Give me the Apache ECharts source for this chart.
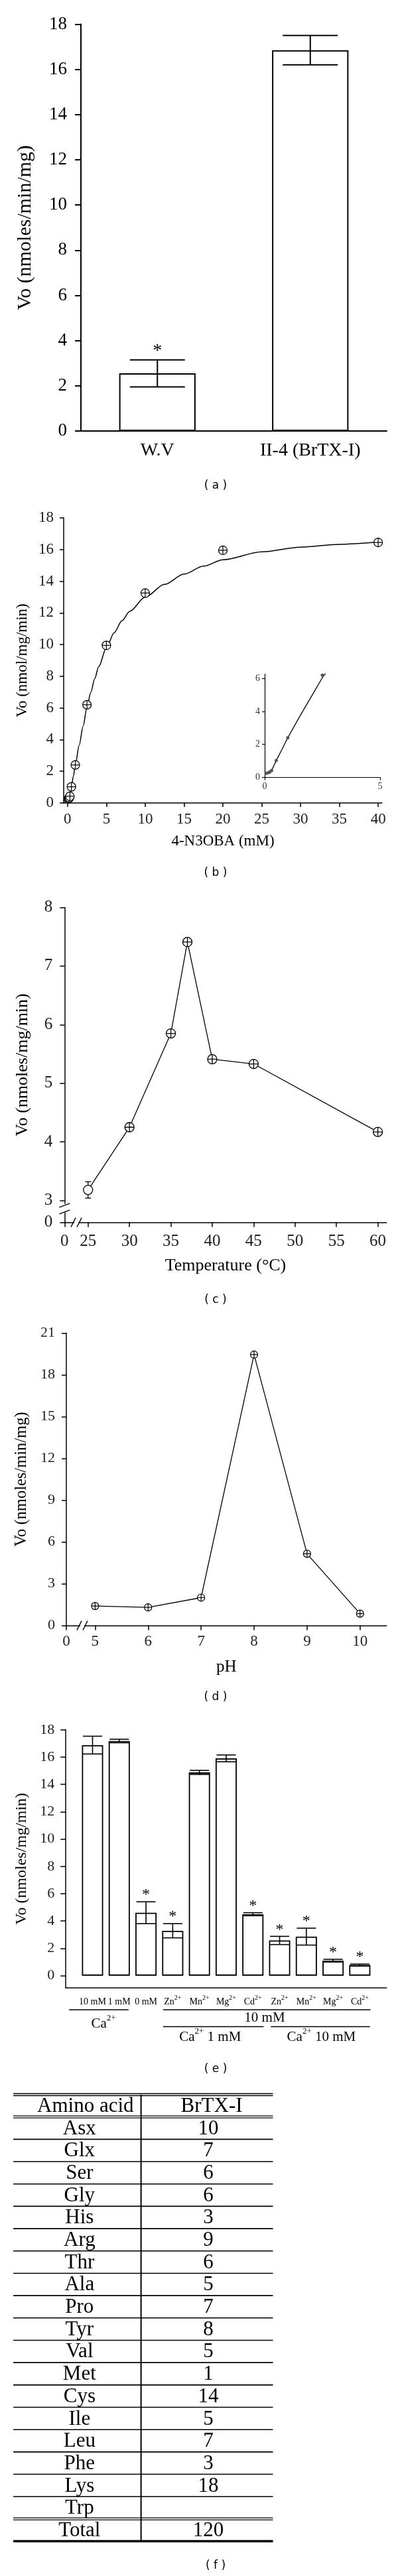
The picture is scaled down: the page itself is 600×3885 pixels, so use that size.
<!DOCTYPE html>
<html><head><meta charset="utf-8">
<script src="https://cdn.jsdelivr.net/npm/echarts@6/dist/echarts.min.js"></script>
<style>html,body{margin:0;padding:0;background:#fff}#c{width:600px;height:3885px}</style>
</head><body><div id="c"></div>
<script>
// ---------- (a) ----------
const aCategories = ['W.V', 'II-4 (BrTX-I)'];
const aValues = [2.55, 16.85];
const aErrors = [0.6, 0.65];
const aSignificant = [1, 0];
const aYTicks = [0, 2, 4, 6, 8, 10, 12, 14, 16, 18];

// ---------- (b) ----------
const bSubstrate = [0.08, 0.17, 0.22, 0.3, 0.5, 1, 2.5, 5, 10, 20, 40];
const bRate = [0.25, 0.29, 0.33, 0.42, 1.02, 2.4, 6.2, 9.95, 13.25, 15.95, 16.45];
const bFitX = [0.05, 0.2, 0.3, 0.5, 0.75, 1, 1.5, 2, 2.5, 3, 3.5, 4, 5, 6, 7, 8, 10, 12.5, 15, 17.5, 20, 25, 30, 35, 40];
const bFitY = [0.22, 0.3, 0.42, 1.02, 1.7, 2.4, 3.65, 4.85, 6.05, 7.0, 7.85, 8.6, 9.8, 10.75, 11.5, 12.1, 13.0, 13.8, 14.45, 14.95, 15.35, 15.85, 16.15, 16.33, 16.47];
const bXTicks = [0, 5, 10, 15, 20, 25, 30, 35, 40];
const bYTicks = [0, 2, 4, 6, 8, 10, 12, 14, 16, 18];
const bInsetXTicks = [0, 5];
const bInsetYTicks = [0, 2, 4, 6];

// ---------- (c) ----------
const cTemperature = [25, 30, 35, 37, 40, 45, 60];
const cRate = [3.18, 4.25, 5.85, 7.41, 5.41, 5.33, 4.17];
const cError = [0.14, 0, 0, 0, 0, 0, 0];
const cXTicks = [25, 30, 35, 40, 45, 50, 55, 60];
const cYTicks = [3, 4, 5, 6, 7, 8];

// ---------- (d) ----------
const dPH = [5, 6, 7, 8, 9, 10];
const dRate = [1.4, 1.3, 2.0, 19.45, 5.15, 0.85];
const dXTicks = [5, 6, 7, 8, 9, 10];
const dYTicks = [0, 3, 6, 9, 12, 15, 18, 21];

// ---------- (e) ----------
const eLabels = ['10 mM', '1 mM', '0 mM', 'Zn', 'Mn', 'Mg', 'Cd', 'Zn', 'Mn', 'Mg', 'Cd'];
const eCharges = ['', '', '', '2+', '2+', '2+', '2+', '2+', '2+', '2+', '2+'];
const eValues = [16.88, 17.18, 4.61, 3.29, 14.88, 15.91, 4.5, 2.58, 2.86, 1.1, 0.78];
const eErrors = [0.65, 0.13, 0.8, 0.52, 0.15, 0.25, 0.11, 0.3, 0.62, 0.1, 0.07];
const eSignificant = [0, 0, 1, 1, 0, 0, 1, 1, 1, 1, 1];
const eYTicks = [0, 2, 4, 6, 8, 10, 12, 14, 16, 18];

// ---------- (f) ----------
const tableHeader = ['Amino acid', 'BrTX-I'];
const aminoAcids = ['Asx', 'Glx', 'Ser', 'Gly', 'His', 'Arg', 'Thr', 'Ala', 'Pro', 'Tyr', 'Val', 'Met', 'Cys', 'Ile', 'Leu', 'Phe', 'Lys', 'Trp'];
const brtxCounts = ['10', '7', '6', '6', '3', '9', '6', '5', '7', '8', '5', '1', '14', '5', '7', '3', '18', ''];
const totalRow = ['Total', '120'];

// ---------- layout ----------
const SERIF = '"Liberation Serif", "Times New Roman", serif';
const SANS = '"DejaVu Sans", sans-serif';
const K = '#000';
const cXMin = 22.16, cYMin = 2.627, dXMin = 4.457, eYMin = -0.89;

const PLUS = 'path://M0,-10A10,10,0,1,1,0,10A10,10,0,1,1,0,-10ZM-10,0L10,0M0,-10L0,10';

function valueAxis(o) {
  return {
    type: 'value', gridIndex: o.grid, min: o.min, max: o.max,
    axisLine: {show: true, onZero: false, lineStyle: {color: K, width: o.lw || 1.5}},
    axisTick: {show: o.tickShow !== false, inside: false, length: o.tickLen || 7, customValues: o.ticks, lineStyle: {color: K, width: o.lw || 1.5}},
    axisLabel: {show: true, customValues: o.labels || o.ticks, formatter: o.fmt || (v => String(v)), color: o.labelColor || K,
      fontFamily: SERIF, fontSize: o.fs, margin: o.margin, rich: o.rich},
    splitLine: {show: false},
    name: o.name || '', nameLocation: 'middle', nameGap: o.nameGap || 0,
    nameTextStyle: {color: K, fontFamily: SERIF, fontSize: o.nameFs || 12}
  };
}

function errorBarRender(capHalf, lw, starSize, starOffset) {
  return function (params, api) {
    const x = api.value(0), y = api.value(1), e = api.value(2), star = api.value(3);
    const pTop = api.coord([x, y + e]);
    const pBot = api.coord([x, y - e]);
    const st = {stroke: K, lineWidth: lw};
    const children = [];
    if (e > 0) {
      children.push({type: 'line', shape: {x1: pTop[0], y1: pTop[1], x2: pBot[0], y2: pBot[1]}, style: st});
      children.push({type: 'line', shape: {x1: pTop[0] - capHalf, y1: pTop[1], x2: pTop[0] + capHalf, y2: pTop[1]}, style: st});
      children.push({type: 'line', shape: {x1: pBot[0] - capHalf, y1: pBot[1], x2: pBot[0] + capHalf, y2: pBot[1]}, style: st});
    }
    if (star) {
      children.push({type: 'text', style: {text: '*', x: pTop[0], y: pTop[1] + starOffset, fill: K,
        font: starSize + 'px ' + SERIF, align: 'center', verticalAlign: 'bottom', textAlign: 'center', textVerticalAlign: 'bottom'}});
    }
    return {type: 'group', children};
  };
}

const tableRows = [tableHeader].concat(aminoAcids.map((a, i) => [a, brtxCounts[i]])).concat([totalRow]);

function tableRender(params, api) {
  const i = params.dataIndex;
  const c = api.coord([0, i]);
  const h = api.size([0, 1])[1];
  const x0 = c[0], x1 = api.coord([1, i])[0];
  const yTop = c[1] - h / 2, yBot = c[1] + h / 2;
  const W = x1 - x0;
  const xDiv = x0 + W * 0.492;
  const children = [];
  const hl = (y, lw) => children.push({type: 'line', shape: {x1: x0, y1: y, x2: x1, y2: y}, style: {stroke: K, lineWidth: lw}});
  const last = tableRows.length - 1;
  if (i === 0) { hl(yTop - 1.5, 1.3); hl(yTop + 1.5, 1.3); }
  if (i === 0 || i === last - 1) { hl(yBot - 1.5, 1.3); hl(yBot + 1.5, 1.3); }
  else if (i === last) { hl(yBot, 3.5); }
  else { hl(yBot, 1.6); }
  children.push({type: 'line', shape: {x1: xDiv, y1: yTop, x2: xDiv, y2: yBot}, style: {stroke: K, lineWidth: 2}});
  const row = tableRows[i];
  const c1 = i === 0 ? 0.278 : 0.255, c2 = i === 0 ? 0.764 : 0.751;
  [[row[0], c1], [row[1], c2]].forEach(([t, f]) => {
    children.push({type: 'text', style: {text: t, x: x0 + W * f, y: c[1] + 1, fill: K, font: '31px ' + SERIF,
      align: 'center', verticalAlign: 'middle', textAlign: 'center', textVerticalAlign: 'middle'}});
  });
  return {type: 'group', children};
}

const zip = (xs, ys) => xs.map((x, i) => [x, ys[i]]);

const option = {
  animation: false,
  backgroundColor: '#fff',
  grid: [
    {left: 122, top: 36.5, width: 461, height: 613.5},
    {left: 96, top: 781, width: 480, height: 430},
    {left: 399, top: 1016.5, width: 174, height: 156},
    {left: 97.3, top: 1368.5, width: 485.4, height: 475},
    {left: 100, top: 2010.4, width: 482.7, height: 441.1},
    {left: 99.2, top: 2608.8, width: 483.5, height: 389.2},
    {left: 20, top: 3159, width: 391.5, height: 673.6}
  ].map(g => Object.assign(g, {containLabel: false, outerBoundsMode: 'none', show: false})),
  xAxis: [
    {type: 'category', gridIndex: 0, data: aCategories,
      axisLine: {onZero: false, lineStyle: {color: K, width: 2}},
      axisTick: {alignWithLabel: true, length: 9, lineStyle: {color: K, width: 2}},
      axisLabel: {color: K, fontFamily: SERIF, fontSize: 28, margin: 16}, splitLine: {show: false}},
    valueAxis({grid: 1, min: -0.5, max: 40.5, ticks: bXTicks, fs: 23, margin: 13, tickLen: 6, name: '4-N3OBA (mM)', nameGap: 46, nameFs: 23, labelColor: '#222'}),
    valueAxis({grid: 2, min: 0, max: 5, ticks: bInsetXTicks, fs: 14, margin: 7, tickLen: 4, lw: 1.2, labelColor: '#333'}),
    valueAxis({grid: 3, min: cXMin, max: 61.05, ticks: [cXMin].concat(cXTicks), fmt: v => v < 24 ? '0' : String(v), fs: 25, margin: 16, tickLen: 7, name: 'Temperature (°C)', nameGap: 53, nameFs: 26, labelColor: '#222'}),
    valueAxis({grid: 4, min: dXMin, max: 10.5, ticks: [dXMin].concat(dXTicks), fmt: v => v < 4.9 ? '0' : String(v), fs: 23, margin: 13, tickLen: 7, name: 'pH', nameGap: 50, nameFs: 25, labelColor: '#222'}),
    valueAxis({grid: 5, min: 0, max: 12, ticks: [], labels: eLabels.map((_, i) => i + 1), tickShow: false, fs: 14, margin: 10,
      fmt: v => { const i = Math.round(v) - 1; return '{b|' + eLabels[i] + '}' + (eCharges[i] ? '{s|' + eCharges[i] + '}' : ''); },
      rich: {b: {fontFamily: SERIF, fontSize: 14, color: K, lineHeight: 18, verticalAlign: 'bottom'},
             s: {fontFamily: SERIF, fontSize: 10, color: K, lineHeight: 12, verticalAlign: 'top'}}}),
    {type: 'value', gridIndex: 6, min: 0, max: 1, show: false}
  ],
  yAxis: [
    valueAxis({grid: 0, min: 0, max: 18, ticks: aYTicks, fs: 27, margin: 21, tickLen: 9, lw: 2, name: 'Vo (nmoles/min/mg)', nameGap: 69, nameFs: 30}),
    valueAxis({grid: 1, min: 0, max: 18, ticks: bYTicks, fs: 23, margin: 15, tickLen: 6, name: 'Vo (nmol/mg/min)', nameGap: 51, nameFs: 23, labelColor: '#222'}),
    valueAxis({grid: 2, min: 0, max: 6.27, ticks: bInsetYTicks, fs: 14, margin: 7, tickLen: 4, lw: 1.2, labelColor: '#333'}),
    valueAxis({grid: 3, min: cYMin, max: 8, ticks: [cYMin].concat(cYTicks), fmt: v => v < 2.9 ? '0' : String(v), fs: 25, margin: 18, tickLen: 7, name: 'Vo (nmoles/mg/min)', nameGap: 50, nameFs: 26, labelColor: '#222'}),
    valueAxis({grid: 4, min: 0, max: 21, ticks: dYTicks, fs: 22, margin: 17, tickLen: 7, name: 'Vo (nmoles/min/mg)', nameGap: 55, nameFs: 24.5, labelColor: '#222'}),
    valueAxis({grid: 5, min: eYMin, max: 18, ticks: eYTicks, fs: 22, margin: 17, tickLen: 8, name: 'Vo (nmoles/mg/min)', nameGap: 54, nameFs: 24, labelColor: '#222'}),
    {type: 'category', gridIndex: 6, data: tableRows.map((_, i) => i), inverse: true, show: false}
  ],
  series: [
    {type: 'bar', xAxisIndex: 0, yAxisIndex: 0, data: aValues, barWidth: '50%',
      itemStyle: {color: '#fff', borderColor: K, borderWidth: 2}, z: 2},
    {type: 'custom', xAxisIndex: 0, yAxisIndex: 0, z: 5,
      data: aValues.map((v, i) => [i, v, aErrors[i], aSignificant[i]]),
      renderItem: errorBarRender(41.5, 2, 28, 1)},
    {type: 'line', xAxisIndex: 1, yAxisIndex: 1, data: zip(bFitX, bFitY), showSymbol: false, smooth: 0.3, smoothMonotone: 'x',
      lineStyle: {color: K, width: 1.5}, z: 3},
    {type: 'scatter', xAxisIndex: 1, yAxisIndex: 1, data: zip(bSubstrate, bRate), symbol: PLUS, symbolSize: 13,
      itemStyle: {color: '#fff', borderColor: K, borderWidth: 1.2, opacity: 1}, z: 4},
    {type: 'line', xAxisIndex: 2, yAxisIndex: 2, data: zip(bFitX, bFitY).filter(p => p[0] <= 3), showSymbol: false,
      lineStyle: {color: K, width: 1.3}, clip: true, z: 3},
    {type: 'scatter', xAxisIndex: 2, yAxisIndex: 2, data: zip(bSubstrate, bRate).filter(p => p[0] <= 3), symbol: 'circle', symbolSize: 5,
      itemStyle: {color: '#555', opacity: 1}, z: 4},
    {type: 'line', xAxisIndex: 3, yAxisIndex: 3,
      data: cTemperature.map((t, i) => i === 0 ? {value: [t, cRate[i]], symbol: 'circle'} : [t, cRate[i]]),
      symbol: PLUS, symbolSize: 14, showAllSymbol: true,
      lineStyle: {color: K, width: 1.3}, itemStyle: {color: '#fff', borderColor: K, borderWidth: 1.3}, z: 3},
    {type: 'custom', xAxisIndex: 3, yAxisIndex: 3, z: 2,
      data: cTemperature.map((t, i) => [t, cRate[i], cError[i], 0]).filter(d => d[2] > 0),
      renderItem: errorBarRender(4.5, 1.3, 20, 0)},
    {type: 'line', xAxisIndex: 4, yAxisIndex: 4, data: zip(dPH, dRate), symbol: PLUS, symbolSize: 11, showAllSymbol: true,
      lineStyle: {color: K, width: 1.3}, itemStyle: {color: '#fff', borderColor: K, borderWidth: 1.2}, z: 3},
    {type: 'bar', xAxisIndex: 5, yAxisIndex: 5, data: eValues.map((v, i) => [i + 1, v]), barWidth: 32,
      itemStyle: {color: '#fff', borderColor: K, borderWidth: 1.8}, z: 2},
    {type: 'custom', xAxisIndex: 5, yAxisIndex: 5, z: 5,
      data: eValues.map((v, i) => [i + 1, v, eErrors[i], eSignificant[i]]),
      renderItem: errorBarRender(14.5, 1.6, 24, 2)},
    {type: 'custom', xAxisIndex: 6, yAxisIndex: 6, z: 5,
      data: tableRows.map((_, i) => [0.5, i]), renderItem: tableRender}
  ]
};

const chart = echarts.init(document.getElementById('c'), null, {renderer: 'canvas', width: 600, height: 3885});
chart.setOption(option);

// ---------- decorations: captions, group annotations, axis breaks ----------
const px = (g, x, y) => chart.convertToPixel({gridIndex: g}, [x, y]);
const els = [];
const txt = (t, x, y, font, rich) => els.push({type: 'text', z: 100, style: {text: t, x, y, fill: K, font, rich,
  align: 'center', verticalAlign: 'middle', textAlign: 'center', textVerticalAlign: 'middle'}});
const ln = (x1, y1, x2, y2, lw) => els.push({type: 'line', z: 100, shape: {x1, y1, x2, y2}, style: {stroke: K, lineWidth: lw || 1.5}});
const gap = (pts) => els.push({type: 'polygon', z: 99, shape: {points: pts}, style: {fill: '#fff'}});

[['( a )', 732.7], ['( b )', 1317], ['( c )', 1961], ['( d )', 2559.6], ['( e )', 3121], ['( f )', 3870]]
  .forEach(([t, y]) => txt(t, 325, y, '17px ' + SANS));

// y-axis break (c)
{
  const p = px(3, cXMin, 2.86);
  gap([[p[0] - 3, p[1] - 6], [p[0] + 3, p[1] - 8], [p[0] + 3, p[1] + 5], [p[0] - 3, p[1] + 7]]);
  ln(p[0] - 8, p[1] - 2, p[0] + 8, p[1] - 8, 1.5);
  ln(p[0] - 8, p[1] + 8, p[0] + 8, p[1] + 2, 1.5);
}
// x-axis breaks (c) and (d)
[[3, 23.58, cYMin], [4, 4.757, 0]].forEach(([g, xv, yv]) => {
  const p = px(g, xv, yv);
  gap([[p[0] - 3, p[1] - 2], [p[0] + 3, p[1] - 2], [p[0] + 3, p[1] + 2], [p[0] - 3, p[1] + 2]]);
  ln(p[0] - 8, p[1] + 7, p[0] - 1, p[1] - 7, 1.5);
  ln(p[0] + 1, p[1] + 7, p[0] + 8, p[1] - 7, 1.5);
});

// (e) group annotations
{
  const base = px(5, 0, eYMin)[1];
  const X = v => px(5, v, 0)[0];
  const richCa = {b: {fontFamily: SERIF, fontSize: 21, fill: K, color: K, lineHeight: 26, verticalAlign: 'bottom'},
                  s: {fontFamily: SERIF, fontSize: 13, fill: K, color: K, lineHeight: 14, verticalAlign: 'top'}};
  ln(X(0.12), base + 33, X(2.35), base + 33, 1.6);
  ln(X(3.64), base + 33, X(11.4), base + 33, 1.6);
  ln(X(3.64), base + 58.5, X(7.4), base + 58.5, 1.6);
  ln(X(7.67), base + 58.5, X(11.38), base + 58.5, 1.6);
  txt('{b|Ca}{s|2+}', X(1.41), base + 52, '21px ' + SERIF, richCa);
  txt('10 mM', X(7.44), base + 45, '21px ' + SERIF);
  txt('{b|Ca}{s|2+}{b| 1 mM}', X(5.4), base + 72, '21px ' + SERIF, richCa);
  txt('{b|Ca}{s|2+}{b| 10 mM}', X(9.56), base + 72, '21px ' + SERIF, richCa);
}

chart.setOption({graphic: {elements: els}});
</script>
</body></html>
